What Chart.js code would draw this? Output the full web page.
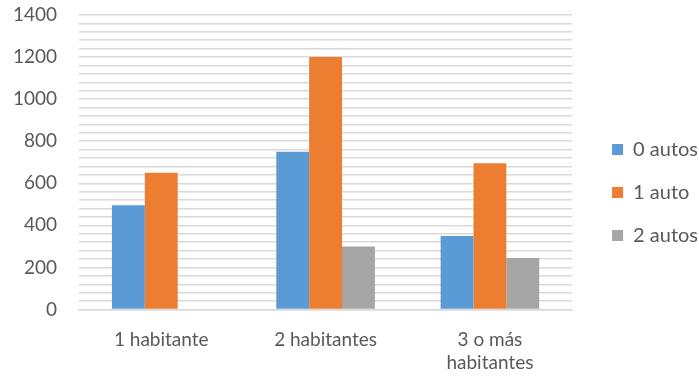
<!DOCTYPE html>
<html>
<head>
<meta charset="utf-8">
<script src="https://cdn.jsdelivr.net/npm/chart.js@4/dist/chart.umd.min.js"></script>
<style>
  html, body { margin: 0; padding: 0; background: #fff; }
  #wrap { width: 699px; height: 377px; }
</style>
</head>
<body>
<div id="wrap"><canvas id="chart"></canvas></div>
<script>
// categories and series
var categories = ['1 habitante', '2 habitantes', ['3 o más', 'habitantes']];
var autos0 = [495, 750, 350];
var autos1 = [650, 1200, 695];
var autos2 = [0, 300, 245];
var seriesNames = ['0 autos', '1 auto', '2 autos'];

// size the legend box and nudge it so it sits like the original
var legendPlace = {
  id: 'legendPlace',
  beforeInit: function(chart) {
    var fit = chart.legend.fit;
    chart.legend.fit = function() {
      fit.bind(chart.legend)();
      this.width += 12;
    };
  },
  afterLayout: function(chart) {
    chart.legend.left += 17;
    chart.legend.right += 17;
  }
};

Chart.defaults.font.family = 'Lato, "Open Sans", sans-serif';
Chart.defaults.color = '#595959';

new Chart(document.getElementById('chart'), {
  type: 'bar',
  data: {
    labels: categories,
    datasets: [
      { label: seriesNames[0], backgroundColor: '#5B9BD5', data: autos0 },
      { label: seriesNames[1], backgroundColor: '#ED7D31', data: autos1 },
      { label: seriesNames[2], backgroundColor: '#A5A5A5', data: autos2 }
    ]
  },
  options: {
    responsive: true,
    maintainAspectRatio: false,
    animation: false,
    layout: { padding: { top: 0, right: -4, left: -9, bottom: -8 } },
    datasets: {
      bar: { barPercentage: 1, categoryPercentage: 0.6 }
    },
    scales: {
      x: {
        grid: { display: false },
        border: { color: '#D9D9D9', width: 1.5 },
        ticks: { font: { size: 19, lineHeight: 1.25 }, color: '#595959', padding: 10 }
      },
      y: {
        min: 0,
        max: 1400,
        border: { display: false },
        grid: { color: '#D9D9D9', lineWidth: 1.5, drawTicks: false },
        afterFit: function(scale) {
          scale.paddingTop = 15;
          scale.paddingBottom = 0;
        },
        ticks: {
          stepSize: 40,
          autoSkip: false,
          padding: 22,
          font: { size: 19 },
          color: '#595959',
          callback: function(v) { return v % 200 === 0 ? v : ''; }
        }
      }
    },
    plugins: {
      legend: {
        position: 'right',
        labels: {
          boxWidth: 11,
          boxHeight: 11,
          padding: 23,
          font: { size: 20 },
          color: '#595959'
        }
      },
      tooltip: { enabled: false }
    }
  },
  plugins: [legendPlace]
});
</script>
</body>
</html>
